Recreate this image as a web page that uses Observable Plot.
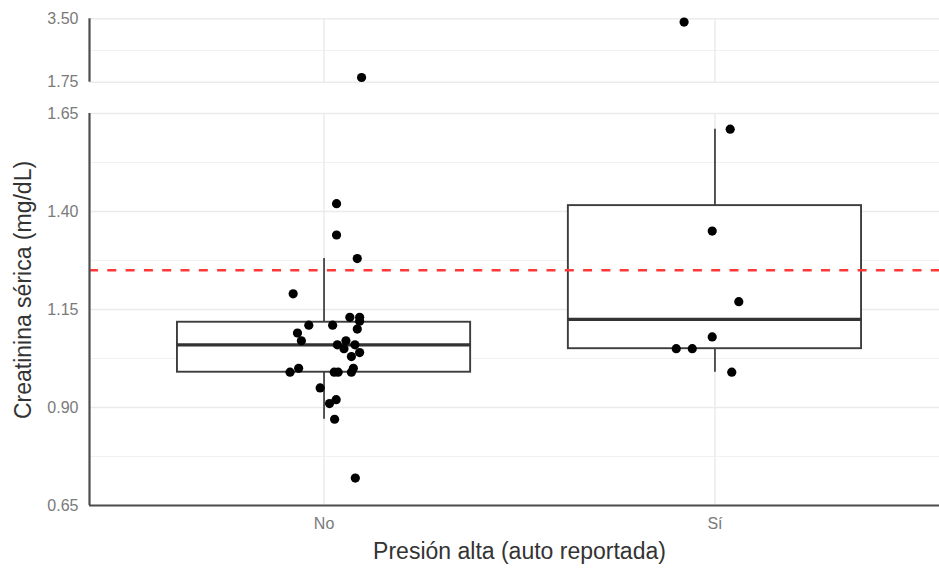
<!DOCTYPE html>
<html>
<head>
<meta charset="utf-8">
<script src="https://cdn.jsdelivr.net/npm/d3@7"></script>
<script src="https://cdn.jsdelivr.net/npm/@observablehq/plot@0.6"></script>
<style>
  body { margin: 0; background: #fff; }
  #chart svg { display: block; }
</style>
</head>
<body>
<div id="chart"></div>
<script>
// Serum creatinine by self-reported high blood pressure
const groups = ["No", "Sí"];

const creatNo = [1.42, 1.34, 1.28, 1.19, 1.13, 1.13, 1.12, 1.10, 1.11, 1.11,
                 1.09, 1.07, 1.06, 1.07, 1.05, 1.06, 1.04, 1.03, 0.99, 1.00,
                 0.99, 0.99, 0.99, 1.00, 0.95, 0.92, 0.91, 0.87, 0.72, 1.88];
// horizontal jitter of each point, in category units
const jitterNo = [0.032, 0.032, 0.085, -0.079, 0.066, 0.091, 0.091, 0.085, -0.039, 0.022,
                  -0.068, -0.058, 0.034, 0.056, 0.051, 0.079, 0.091, 0.070, -0.087, -0.065,
                  0.026, 0.036, 0.070, 0.075, -0.010, 0.031, 0.014, 0.027, 0.080, 0.096];

const creatSi = [3.41, 1.61, 1.35, 1.17, 1.08, 1.05, 1.05, 0.99];
const jitterSi = [-0.079, 0.039, -0.007, 0.061, -0.007, -0.099, -0.058, 0.043];

const threshold = 1.25;

// broken y axis: a lower and an upper segment
const segments = [[0.65, 1.65], [1.75, 3.50]];
const yTicks = [0.65, 0.90, 1.15, 1.40, 1.65, 1.75, 3.50];
const yMinor = [0.775, 1.025, 1.275, 1.525, 2.625];
const xDomain = [0.4, 2.6];

const xTitle = "Presión alta (auto reportada)";
const yTitle = "Creatinina sérica (mg/dL)";

const points = [
  ...creatNo.map((v, i) => ({g: 1, v, j: jitterNo[i]})),
  ...creatSi.map((v, i) => ({g: 2, v, j: jitterSi[i]}))
];

// Tukey box statistics per group
const boxes = [creatNo, creatSi].map((vals, i) => {
  const s = vals.slice().sort(d3.ascending);
  const q1 = d3.quantile(s, 0.25), med = d3.quantile(s, 0.5), q3 = d3.quantile(s, 0.75);
  const iqr = q3 - q1;
  return {
    g: i + 1, q1, med, q3,
    lo: d3.min(s.filter(v => v >= q1 - 1.5 * iqr)),
    hi: d3.max(s.filter(v => v <= q3 + 1.5 * iqr))
  };
});

const vGrid = segments.flatMap(([lo, hi]) => [1, 2].map(g => ({g, lo, hi})));
const halfBox = 0.375;
const axisColor = "#4d4d4d";

const chart = Plot.plot({
  width: 939,
  height: 568,
  marginTop: 18,
  marginBottom: 63,
  marginLeft: 89,
  marginRight: 0,
  style: {fontFamily: "'Liberation Sans', Arial, sans-serif", fontSize: "16px", background: "#fff"},
  x: {type: "linear", domain: xDomain, range: [89, 949]},
  y: {type: "linear", domain: [0.65, 1.65, 1.75, 3.50], range: [505, 113, 81.7, 18.3]},
  marks: [
    Plot.ruleY(yMinor, {stroke: "#f1f1f1", strokeWidth: 1.2}),
    Plot.ruleY(yTicks, {stroke: "#ebebeb", strokeWidth: 1.5}),
    Plot.ruleX(vGrid, {x: "g", y1: "lo", y2: "hi", stroke: "#ebebeb", strokeWidth: 1.5}),
    Plot.ruleX(boxes, {x: "g", y1: "q3", y2: "hi", stroke: "#444", strokeWidth: 1.8}),
    Plot.ruleX(boxes, {x: "g", y1: "lo", y2: "q1", stroke: "#444", strokeWidth: 1.8}),
    Plot.rect(boxes, {x1: d => d.g - halfBox, x2: d => d.g + halfBox, y1: "q1", y2: "q3",
                      fill: "white", stroke: "#3d3d3d", strokeWidth: 1.9}),
    Plot.ruleY(boxes, {y: "med", x1: d => d.g - halfBox, x2: d => d.g + halfBox,
                       stroke: "#333", strokeWidth: 3.2}),
    Plot.ruleY([threshold], {stroke: "#ff3838", strokeWidth: 2.6, strokeDasharray: "9,9.3"}),
    Plot.dot(points, {x: d => d.g + d.j, y: "v", r: 4.6, fill: "black", stroke: "none"}),
    Plot.ruleX(segments, {x: () => xDomain[0], y1: d => d[0], y2: d => d[1], stroke: axisColor, strokeWidth: 2.2}),
    Plot.ruleY([segments[0][0]], {stroke: axisColor, strokeWidth: 2.2}),
    Plot.axisY({ticks: yTicks, tickSize: 0, tickPadding: 11, tickFormat: d3.format(".2f"),
                label: null, fill: "#7a7a7a", letterSpacing: "1px"}),
    Plot.axisX({ticks: [1, 2], tickSize: 0, tickPadding: 12, tickFormat: d => groups[d - 1],
                label: null, fill: "#7a7a7a", letterSpacing: "1.5px"}),
    Plot.text([xTitle], {frameAnchor: "bottom", dx: 5, dy: 53, lineAnchor: "bottom",
                         fontSize: 23, fill: "#333", letterSpacing: "0.4px"}),
    Plot.text([yTitle], {frameAnchor: "left", textAnchor: "middle", rotate: -90, dx: -66, dy: 28,
                         fontSize: 23, fill: "#333", letterSpacing: "2px"})
  ]
});

document.getElementById("chart").appendChild(chart);
</script>
</body>
</html>
